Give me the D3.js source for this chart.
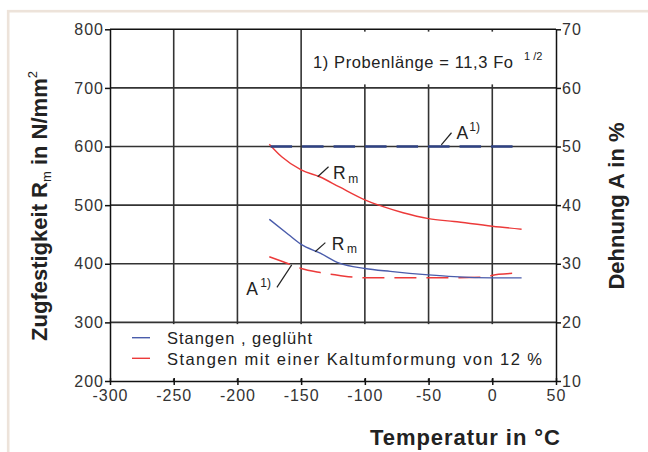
<!DOCTYPE html>
<html><head><meta charset="utf-8">
<script src="https://cdn.jsdelivr.net/npm/d3@7"></script>
<style>body{margin:0;background:#fff}svg{display:block;font-family:"Liberation Sans",Arial,sans-serif}</style>
</head><body><svg id="c" width="648" height="452"></svg>
<script>
// ---- data ----
const xTicks = [-300,-250,-200,-150,-100,-50,0,50];
const rmTicks = [200,300,400,500,600,700,800];
const aTicks = [10,20,30,40,50,60,70];

const redRmT = [-175,-165,-150,-135,-120,-100,-85,-70,-50,-30,0,23];
const redRm  = [604,582,560,548,531,509,497,487,477,472,464,459];
const blueRmT = [-175,-160,-150,-135,-120,-100,-80,-50,-30,0,23];
const blueRm  = [476,450,433,418,401,392,387,381,378,376,376];
const blueAT = [-174,-100,-50,0,17];
const blueA  = [50,50,50,50,50];
const redAT = [-175,-160,-150,-135,-120,-100,-70,-40,-10,5,17];
const redA  = [31.2,30.0,29.2,28.5,28.0,27.6,27.6,27.6,27.7,28.2,28.4];

const legendNames = ["Stangen , geglüht","Stangen mit einer Kaltumformung von 12 %"];
const noteText = "1) Probenlänge = 11,3 Fo";
const noteSup = "1 /2";

// annotation anchors in data space (T, Rm)
const annoLabels = [
  {main:"A", script:"1)", T:-28,  v:613, sT:-18,  sv:627},
  {main:"R", script:"m",  T:-125, v:545, sT:-113, sv:538},
  {main:"R", script:"m",  T:-126, v:423, sT:-114, sv:419},
  {main:"A", script:"1)", T:-193, v:347, sT:-182, sv:360}
];
const annoLeaders = [
  [[-40,603],[-32,623.5]],
  [[-137,548.5],[-128.5,565.5]],
  [[-139,420.5],[-131,436]],
  [[-169,359.7],[-157.4,398]]
];

// ---- chart ----
const svg = d3.select("#c");
const x = d3.scaleLinear([-300,50],[110,556]);
const yL = d3.scaleLinear([200,800],[381,29.3]);
const yR = d3.scaleLinear([10,70],[381,29.3]);
const fmt = d => String(d);

// frame
svg.append("rect").attr("x",8.2).attr("y",11.2).attr("width",700).attr("height",500)
  .attr("fill","none").attr("stroke","#ede3da").attr("stroke-width",2.6);

// gridlines
const grid = svg.append("g").attr("stroke","#333").attr("stroke-width",1.6);
xTicks.slice(1,-1).forEach(t=>grid.append("line").attr("x1",x(t)).attr("x2",x(t)).attr("y1",yL(800)).attr("y2",yL(200)));
rmTicks.slice(1,-1).forEach(t=>grid.append("line").attr("x1",x(-300)).attr("x2",x(50)).attr("y1",yL(t)).attr("y2",yL(t)));

// white boxes
svg.append("rect").attr("x",x(-146)).attr("y",yL(796)).attr("width",x(49.5)-x(-146)).attr("height",yL(706)-yL(796)).attr("fill","#fff");
svg.append("rect").attr("x",x(-299.5)).attr("y",yL(297)).attr("width",x(49.5)-x(-299.5)).attr("height",yL(204)-yL(297)).attr("fill","#fff");

// axes
const tickFont = g=>g.selectAll("text").attr("font-size",16).attr("fill","#333").attr("letter-spacing",1).attr("font-family","Liberation Sans, Arial, sans-serif");
const axStyle = g=>{g.selectAll("path,line").attr("stroke","#111").attr("stroke-width",1.5);};
svg.append("g").attr("transform",`translate(0,${yL(200)})`)
  .call(d3.axisBottom(x).tickValues(xTicks).tickFormat(fmt).tickSize(4).tickSizeOuter(0).tickPadding(5))
  .call(axStyle).call(tickFont);
svg.append("g").attr("transform",`translate(0,${yL(200)})`)
  .call(d3.axisTop(x).tickValues(xTicks).tickSize(3).tickFormat(""))
  .call(g=>g.select(".domain").remove()).call(axStyle);
svg.append("g").attr("transform",`translate(${x(-300)},0)`)
  .call(d3.axisLeft(yL).tickValues(rmTicks).tickFormat(fmt).tickSize(5).tickSizeOuter(0).tickPadding(1))
  .call(axStyle).call(tickFont);
svg.append("g").attr("transform",`translate(${x(50)},0)`)
  .call(d3.axisRight(yR).tickValues(aTicks).tickFormat(fmt).tickSize(5).tickSizeOuter(0).tickPadding(1))
  .call(axStyle).call(tickFont);
svg.append("line").attr("x1",x(-300)).attr("x2",x(50)).attr("y1",yL(800)).attr("y2",yL(800)).attr("stroke","#111").attr("stroke-width",1.5);
svg.selectAll(".domain").attr("fill","none");

// series
const lineL = d3.line().x(d=>x(d[0])).y(d=>yL(d[1])).curve(d3.curveMonotoneX);
const lineR = d3.line().x(d=>x(d[0])).y(d=>yR(d[1])).curve(d3.curveMonotoneX);
const zip = (a,b)=>a.map((v,i)=>[v,b[i]]);
svg.append("path").attr("d",lineR(zip(redAT,redA))).attr("fill","none").attr("stroke","#ec3a3a").attr("stroke-width",1.5).attr("stroke-dasharray","22,10");
svg.append("path").attr("d",lineL(zip(blueRmT,blueRm))).attr("fill","none").attr("stroke","#4a5cab").attr("stroke-width",1.4);
svg.append("path").attr("d",lineL(zip(redRmT,redRm))).attr("fill","none").attr("stroke","#ec3a3a").attr("stroke-width",1.4);
svg.append("path").attr("d",lineR(zip(blueAT,blueA))).attr("fill","none").attr("stroke","#2f4283").attr("stroke-width",2.6).attr("stroke-dasharray","21.5,10");

// annotations
annoLeaders.forEach(l=>svg.append("line").attr("x1",x(l[0][0])).attr("y1",yL(l[0][1])).attr("x2",x(l[1][0])).attr("y2",yL(l[1][1])).attr("stroke","#222").attr("stroke-width",1.2));
annoLabels.forEach(a=>{
  svg.append("text").attr("x",x(a.T)).attr("y",yL(a.v)).attr("font-size",17.5).attr("fill","#222").text(a.main);
  svg.append("text").attr("x",x(a.sT)).attr("y",yL(a.sv)).attr("font-size",12).attr("fill","#222").text(a.script);
});

// note
svg.append("text").attr("x",313).attr("y",68).attr("font-size",16.5).attr("textLength",200).attr("lengthAdjust","spacing").attr("fill","#222").text(noteText);
svg.append("text").attr("x",524).attr("y",60).attr("font-size",11).attr("fill","#222").text(noteSup);

// legend
const legColors = ["#4a5cab","#ec3a3a"];
const legWidths = [145,375];
legendNames.forEach((n,i)=>{
  const yy = 337.7 + i*20.6;
  svg.append("line").attr("x1",132).attr("x2",150).attr("y1",yy).attr("y2",yy).attr("stroke",legColors[i]).attr("stroke-width",1.4);
  svg.append("text").attr("x",167).attr("y",yy+6.5).attr("font-size",16.5).attr("textLength",legWidths[i]).attr("lengthAdjust","spacing").attr("fill","#222").text(n);
});

// axis titles
const lt = svg.append("text").attr("transform","translate(47,206) rotate(-90)").attr("text-anchor","middle")
  .attr("font-size",22).attr("font-weight","bold").attr("fill","#222");
lt.append("tspan").text("Zugfestigkeit R");
lt.append("tspan").attr("font-size",13).attr("font-weight","normal").attr("dy",4).text("m");
lt.append("tspan").attr("dy",-4).text(" in N/mm");
lt.append("tspan").attr("font-size",13).attr("font-weight","normal").attr("dy",-10).text("2");

svg.append("text").attr("transform","translate(624,206) rotate(-90)").attr("text-anchor","middle")
  .attr("font-size",22).attr("font-weight","bold").attr("fill","#222").text("Dehnung A in %");
svg.append("text").attr("x",370).attr("y",445).attr("textLength",190).attr("lengthAdjust","spacing")
  .attr("font-size",22).attr("font-weight","bold").attr("fill","#222").text("Temperatur in °C");
</script></body></html>
